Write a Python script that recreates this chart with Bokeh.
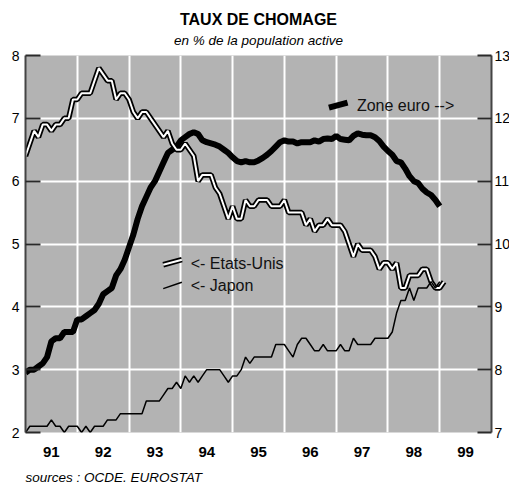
from bokeh.plotting import figure
from bokeh.models import Range1d, LinearAxis, FixedTicker, Label, Title
from bokeh.embed import file_html
from bokeh.resources import INLINE

# ---------------- data (monthly, starting January 1991) ----------------
START_YEAR = 1991
year_labels = ["91", "92", "93", "94", "95", "96", "97", "98", "99"]

# Etats-Unis, % (left axis)
us = [6.4, 6.6, 6.8, 6.7, 6.9, 6.9, 6.8, 6.9, 6.9, 7.0, 7.0, 7.3,
      7.3, 7.4, 7.4, 7.4, 7.6, 7.8, 7.7, 7.6, 7.6, 7.3, 7.4, 7.4,
      7.3, 7.1, 7.0, 7.1, 7.1, 7.0, 6.9, 6.8, 6.7, 6.8, 6.6, 6.5,
      6.5, 6.6, 6.5, 6.4, 6.0, 6.1, 6.1, 6.1, 5.9, 5.8, 5.6, 5.4,
      5.6, 5.4, 5.4, 5.7, 5.6, 5.6, 5.7, 5.7, 5.7, 5.6, 5.6, 5.6,
      5.7, 5.5, 5.5, 5.5, 5.5, 5.3, 5.4, 5.2, 5.3, 5.3, 5.4, 5.3,
      5.3, 5.3, 5.2, 5.0, 4.8, 5.0, 4.9, 4.9, 4.9, 4.8, 4.6, 4.7,
      4.7, 4.6, 4.7, 4.3, 4.3, 4.5, 4.5, 4.5, 4.6, 4.6, 4.4, 4.3,
      4.3, 4.4]

# Japon, % (left axis)
japon = [2.0, 2.1, 2.1, 2.1, 2.1, 2.1, 2.2, 2.1, 2.1, 2.0, 2.1, 2.1,
         2.1, 2.0, 2.1, 2.0, 2.1, 2.1, 2.1, 2.2, 2.2, 2.2, 2.3, 2.3,
         2.3, 2.3, 2.3, 2.3, 2.5, 2.5, 2.5, 2.5, 2.6, 2.7, 2.7, 2.8,
         2.7, 2.9, 2.8, 2.9, 2.8, 2.9, 3.0, 3.0, 3.0, 3.0, 2.9, 2.8,
         2.9, 2.9, 3.0, 3.2, 3.1, 3.2, 3.2, 3.2, 3.2, 3.2, 3.4, 3.4,
         3.4, 3.3, 3.2, 3.4, 3.5, 3.5, 3.4, 3.3, 3.3, 3.4, 3.3, 3.3,
         3.3, 3.4, 3.3, 3.3, 3.5, 3.4, 3.4, 3.4, 3.4, 3.5, 3.5, 3.5,
         3.5, 3.6, 3.9, 4.1, 4.1, 4.3, 4.1, 4.3, 4.3, 4.3, 4.4, 4.3,
         4.4]

# Zone euro, % (right axis)
euro = [7.95, 8.0, 8.0, 8.05, 8.1, 8.2, 8.45, 8.5, 8.5, 8.6, 8.6, 8.6,
        8.8, 8.8, 8.85, 8.9, 8.95, 9.05, 9.2, 9.25, 9.3, 9.5, 9.6, 9.75,
        9.95, 10.15, 10.4, 10.6, 10.75, 10.9, 11.0, 11.15, 11.3, 11.45, 11.5, 11.55,
        11.65, 11.7, 11.75, 11.78, 11.75, 11.65, 11.62, 11.6, 11.58, 11.55, 11.5, 11.45,
        11.38, 11.32, 11.3, 11.32, 11.3, 11.3, 11.33, 11.37, 11.42, 11.48, 11.55, 11.62,
        11.65, 11.63, 11.63, 11.6, 11.62, 11.62, 11.62, 11.65, 11.63, 11.67, 11.68, 11.67,
        11.72, 11.67, 11.66, 11.65, 11.72, 11.76, 11.74, 11.73, 11.73, 11.7, 11.64, 11.55,
        11.48, 11.42, 11.32, 11.3, 11.2, 11.08, 11.0, 10.97, 10.88, 10.82, 10.78, 10.7,
        10.6]

left_ticks = [2, 3, 4, 5, 6, 7, 8]
right_ticks = [7, 8, 9, 10, 11, 12, 13]


def months_to_x(series):
    return [START_YEAR + m / 12 for m in range(len(series))]


x_us = months_to_x(us)
x_jp = months_to_x(japon)
x_eu = months_to_x(euro)

FONT = "Liberation Sans"
BG = "#b3b3b3"
DARK = "#2a2a2a"

p = figure(frame_width=466, frame_height=377, output_backend="svg",
           toolbar_location=None,
           x_range=Range1d(START_YEAR, START_YEAR + len(year_labels)),
           y_range=Range1d(2, 8),
           min_border_left=25, min_border_right=18, min_border_top=55,
           min_border_bottom=51)
p.extra_y_ranges = {"eu": Range1d(7, 13)}

p.background_fill_color = BG
p.border_fill_color = "white"
p.outline_line_color = None

# titles (the later one added is closer to the plot)
p.title.text = "TAUX DE CHOMAGE"
p.title.align = "center"
p.title.text_font = FONT
p.title.text_font_style = "bold"
p.title.text_font_size = "16px"
p.title.text_color = "black"
p.title.standoff = -5
p.add_layout(Title(text="en % de la population active", align="center",
                   text_font=FONT, text_font_style="italic",
                   text_font_size="13.5px", text_color="black", standoff=10,
                   text_line_height=0.8,
                   padding=dict(left=0, right=0, top=0, bottom=3)),
             "above")
p.add_layout(Title(text="sources : OCDE. EUROSTAT", align="left", text_font=FONT,
                   text_font_style="italic", text_font_size="13.5px",
                   text_color="black", standoff=6,
                   padding=dict(left=0, right=0, top=5, bottom=0)), "below")

# left axis
la = p.yaxis[0]
la.ticker = FixedTicker(ticks=left_ticks)
la.major_tick_in = 15
la.major_tick_out = 0
la.minor_tick_line_color = None
la.major_tick_line_color = DARK
la.major_tick_line_width = 2
la.axis_line_color = "#444444"
la.axis_line_width = 2
la.major_label_text_font = FONT
la.major_label_text_font_size = "14px"
la.major_label_text_color = "black"
la.major_label_standoff = 6

# right axis
ra = LinearAxis(y_range_name="eu", ticker=FixedTicker(ticks=right_ticks))
ra.major_tick_in = 14
ra.major_tick_out = 0
ra.minor_tick_line_color = None
ra.major_tick_line_color = DARK
ra.major_tick_line_width = 2
ra.axis_line_color = "#444444"
ra.axis_line_width = 2
ra.major_label_text_font = FONT
ra.major_label_text_font_size = "14px"
ra.major_label_text_color = "black"
ra.major_label_standoff = 3
p.add_layout(ra, "right")

# bottom axis: labels centred in each year
xa = p.xaxis[0]
label_pos = [START_YEAR + i + 0.5 for i in range(len(year_labels))]
xa.ticker = FixedTicker(ticks=label_pos)
xa.major_label_overrides = {pos: lab for pos, lab in zip(label_pos, year_labels)}
xa.major_tick_line_color = None
xa.minor_tick_line_color = None
xa.major_tick_in = 0
xa.major_tick_out = 0
xa.axis_line_color = None
xa.major_label_text_font = FONT
xa.major_label_text_font_style = "bold"
xa.major_label_text_font_size = "15px"
xa.major_label_text_color = "black"
xa.major_label_standoff = 14

# grid
p.xgrid.ticker = FixedTicker(ticks=[START_YEAR + i for i in range(1, len(year_labels))])
p.xgrid.grid_line_color = "white"
p.xgrid.grid_line_width = 2
p.ygrid.ticker = FixedTicker(ticks=left_ticks)
p.ygrid.grid_line_color = "white"
p.ygrid.grid_line_width = 2

# series
p.line(x_eu, euro, y_range_name="eu", line_color="black", line_width=6)
p.line(x_us, us, line_color="black", line_width=5.5)
p.line(x_us, us, line_color="white", line_width=2)
p.line(x_jp, japon, line_color="black", line_width=1.5)

# legend samples and texts
p.segment(x0=[1996.86], y0=[12.17], x1=[1997.22], y1=[12.25],
          y_range_name="eu", line_color="black", line_width=6)
p.segment(x0=[1993.66], y0=[4.67], x1=[1994.02], y1=[4.75],
          line_color="black", line_width=5.5)
p.segment(x0=[1993.66], y0=[4.67], x1=[1994.02], y1=[4.75],
          line_color="white", line_width=2)
p.segment(x0=[1993.66], y0=[4.29], x1=[1994.02], y1=[4.39],
          line_color="black", line_width=1.5)

for txt, x, y in [("Zone euro -->", 1997.40, 7.20),
                  ("<- Etats-Unis", 1994.19, 4.69),
                  ("<- Japon", 1994.19, 4.34)]:
    p.add_layout(Label(x=x, y=y, text=txt, text_font=FONT, text_font_size="16px",
                       text_baseline="middle", text_align="left", text_color="#111111"))

open("out.html", "w").write(file_html(p, INLINE))
